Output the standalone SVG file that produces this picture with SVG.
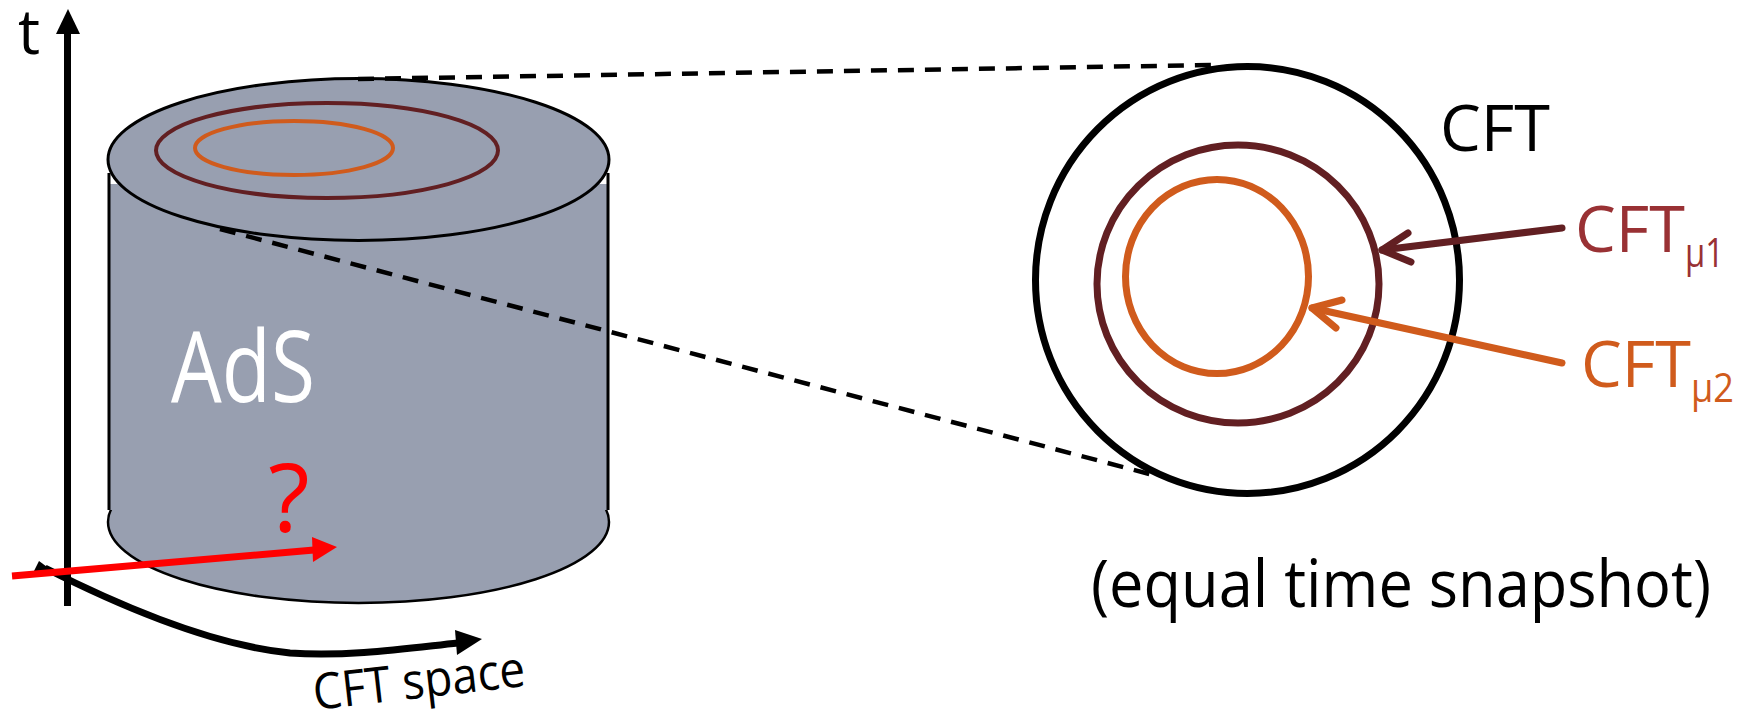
<svg xmlns="http://www.w3.org/2000/svg" width="1742" height="713" viewBox="0 0 1742 713">
  <style>
    text { font-family: "Open Sans", "Liberation Sans", sans-serif; }
    .bulk { fill: #989fb0; }
    .rim { fill: none; stroke: #000; }
    .dash { fill: none; stroke: #000; stroke-width: 4.5; stroke-dasharray: 16 11; }
    .ring1 { fill: none; stroke: #621f22; }
    .ring2 { fill: none; stroke: #d05b1c; }
    .lbl { font-size: 64px; }
    .sub { font-size: 40px; }
  </style>

  <!-- bulk cylinder -->
  <g id="ads-cylinder">
    <ellipse class="bulk" cx="358.5" cy="522" rx="250.5" ry="81" stroke="#000" stroke-width="2.5"/>
    <rect class="bulk" x="109" y="184" width="499" height="326"/>
    <line x1="109" y1="173" x2="109" y2="510" stroke="#000" stroke-width="3"/>
    <line x1="608" y1="173" x2="608" y2="510" stroke="#000" stroke-width="3"/>
    <ellipse class="bulk" cx="358.5" cy="159.5" rx="250.5" ry="81" stroke="#000" stroke-width="3"/>
    <ellipse class="ring1" cx="327" cy="150.5" rx="171" ry="47.5" stroke-width="4"/>
    <ellipse class="ring2" cx="294" cy="148" rx="99" ry="27" stroke-width="4"/>
    <text x="171" y="402" font-size="98" fill="#fff" textLength="144" lengthAdjust="spacingAndGlyphs">AdS</text>
    <text x="289" y="532" font-size="96" fill="#ff0000" text-anchor="middle">?</text>
  </g>

  <!-- boundary snapshot -->
  <g id="cft-snapshot">
    <ellipse class="rim" cx="1247.5" cy="280" rx="212" ry="213.5" stroke-width="7"/>
    <ellipse class="ring1" cx="1238" cy="284" rx="141" ry="139" stroke-width="7"/>
    <ellipse class="ring2" cx="1217" cy="276.5" rx="91.5" ry="97" stroke-width="7"/>
  </g>

  <g id="label-cft">
    <text class="lbl" x="1440" y="151" textLength="110" lengthAdjust="spacingAndGlyphs">CFT</text>
  </g>
  <g id="label-cft-mu1" fill="#993134">
    <text class="lbl" x="1575" y="252" textLength="110" lengthAdjust="spacingAndGlyphs">CFT</text>
    <text class="sub" x="1685" y="267" textLength="39" lengthAdjust="spacingAndGlyphs">μ1</text>
  </g>
  <g id="label-cft-mu2" fill="#d05b1c">
    <text class="lbl" x="1581" y="387" textLength="110" lengthAdjust="spacingAndGlyphs">CFT</text>
    <text class="sub" x="1691" y="402" textLength="43" lengthAdjust="spacingAndGlyphs">μ2</text>
  </g>
  <g id="label-snapshot">
    <text x="1091" y="607" font-size="66" textLength="620" lengthAdjust="spacingAndGlyphs">(equal time snapshot)</text>
  </g>

  <!-- axes -->
  <g id="axis-t">
    <line x1="67.5" y1="606" x2="67.5" y2="32" stroke="#000" stroke-width="7"/>
    <polygon points="68,9 56,34 80,34" fill="#000"/>
    <text x="18" y="54" font-size="62">t</text>
  </g>
  <g id="axis-space">
    <polygon points="39,561 33,573 54,572" fill="#000"/>
    <path d="M 45 568 C 120 606, 210 645, 290 653 C 350 657, 410 648, 458 643" fill="none" stroke="#000" stroke-width="7"/>
    <polygon points="482,639 455,630 457,655" fill="#000"/>
    <text x="315" y="710" font-size="50" transform="rotate(-6.5 315 710)" textLength="213" lengthAdjust="spacingAndGlyphs">CFT space</text>
  </g>

  <!-- connectors -->
  <g id="connectors" stroke-linecap="round">
    <line class="dash" x1="358" y1="79" x2="1212" y2="65" stroke-linecap="butt"/>
    <line class="dash" x1="220" y1="229" x2="1157" y2="476" stroke-linecap="butt"/>
    <g stroke="#621f22" stroke-width="7" fill="none" stroke-linejoin="round">
      <line x1="1562" y1="228" x2="1382" y2="250"/>
      <polyline points="1408,233 1382,250 1411,262"/>
    </g>
    <g stroke="#d05b1c" stroke-width="7" fill="none" stroke-linejoin="round">
      <line x1="1562" y1="363" x2="1312" y2="308"/>
      <polyline points="1342,300 1312,308 1336,328"/>
    </g>
    <g id="probe-arrow">
      <line x1="12" y1="576" x2="314" y2="550" stroke="#ff0000" stroke-width="7" stroke-linecap="butt"/>
      <polygon points="337,547 312,537 313,562" fill="#ff0000" stroke="none"/>
    </g>
  </g>
</svg>
